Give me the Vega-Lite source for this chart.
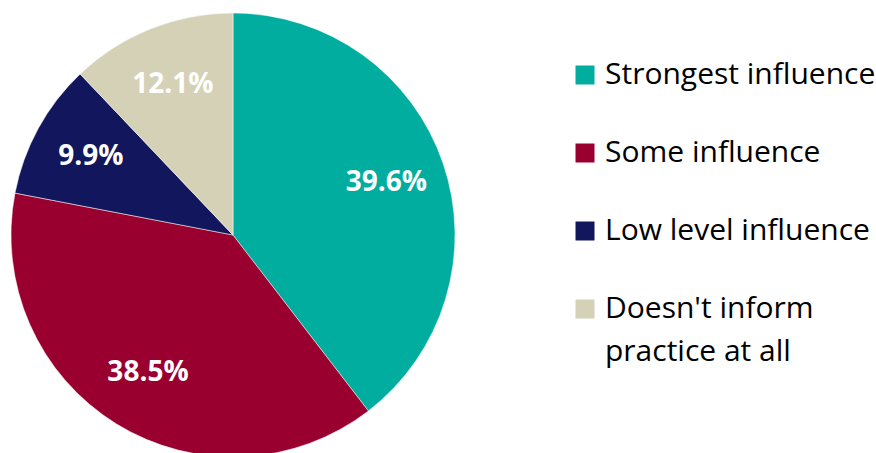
{
  "$schema": "https://vega.github.io/schema/vega-lite/v6.json",
  "width": 466,
  "height": 470,
  "padding": 0,
  "background": "white",
  "view": {"stroke": null},
  "config": {"style": {"guide-label": {"lineHeight": 43}}},
  "data": {
    "values": [
      {"category": "Strongest influence", "value": 39.6, "label": "39.6%", "order": 1},
      {"category": "Some influence", "value": 38.5, "label": "38.5%", "order": 2},
      {"category": "Low level influence", "value": 9.9, "label": "9.9%", "order": 3},
      {"category": "Doesn't inform practice at all", "value": 12.1, "label": "12.1%", "order": 4}
    ]
  },
  "encoding": {
    "theta": {"field": "value", "type": "quantitative", "stack": true},
    "order": {"field": "order", "type": "quantitative"},
    "color": {
      "field": "category",
      "type": "nominal",
      "sort": null,
      "scale": {
        "domain": ["Strongest influence", "Some influence", "Low level influence", "Doesn't inform practice at all"],
        "range": ["#00AD9E", "#990030", "#11165D", "#D4D1B6"]
      },
      "legend": {
        "orient": "none",
        "legendX": 570,
        "legendY": 60,
        "title": null,
        "symbolType": "square",
        "symbolSize": 361,
        "symbolStrokeWidth": 0,
        "labelFont": "Open Sans",
        "labelFontSize": 30,
        "labelColor": "#000000",
        "labelLimit": 400,
        "labelOffset": 5,
        "rowPadding": 48,
        "labelBaseline": "middle",
        "labelExpr": "datum.label == \"Doesn't inform practice at all\" ? [\"Doesn't inform\", \"practice at all\"] : datum.label"
      }
    }
  },
  "layer": [
    {"mark": {"type": "arc", "outerRadius": 222, "stroke": "white", "strokeWidth": 0.5}},
    {
      "mark": {"type": "text", "radius": 162, "font": "Open Sans", "fontSize": 28, "fontWeight": "bold", "fill": "white", "align": "center", "baseline": "middle"},
      "encoding": {"text": {"field": "label"}, "color": {"value": "white"}, "detail": {"field": "category"}}
    }
  ]
}
